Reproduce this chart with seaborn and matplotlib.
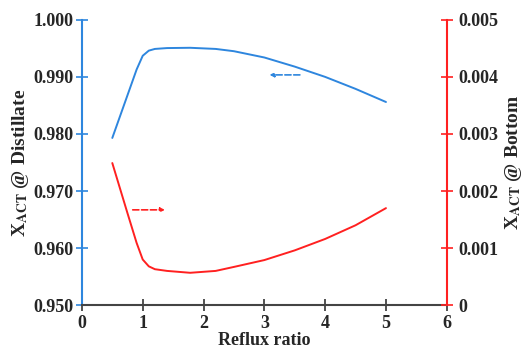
import numpy as np
import pandas as pd
import matplotlib
matplotlib.use('Agg')
import matplotlib.pyplot as plt
import seaborn as sns

# ── Data ──────────────────────────────────────────────────────────────────
reflux = [0.5, 0.75, 0.9, 1.0, 1.1, 1.2, 1.4, 1.78, 2.2, 2.5, 3.0, 3.5, 4.0, 4.5, 5.0]
x_distillate = [0.9793, 0.9868, 0.9913, 0.9937, 0.9946, 0.9949, 0.99505, 0.9951,
                0.9949, 0.9945, 0.9934, 0.9918, 0.9900, 0.9879, 0.9856]
x_bottom = [0.00249, 0.00161, 0.00109, 0.00080, 0.00068, 0.00063, 0.00060, 0.000567,
            0.00060, 0.00067, 0.00079, 0.00096, 0.00116, 0.00140, 0.00170]

blue = '#2E86DE'
red = '#FF2020'

sns.set_style('white')
plt.rcParams['font.family'] = ['Liberation Serif', 'DejaVu Serif']
plt.rcParams['font.weight'] = 'bold'
plt.rcParams['mathtext.fontset'] = 'stix'

df = pd.DataFrame({'reflux': reflux, 'dist': x_distillate, 'bot': x_bottom})

fig = plt.figure(figsize=(5.25, 3.54), dpi=100)
ax = fig.add_axes([0.156, 0.138, 0.695, 0.806])
ax2 = ax.twinx()

sns.lineplot(data=df, x='reflux', y='dist', ax=ax, color=blue, lw=1.4)
sns.lineplot(data=df, x='reflux', y='bot', ax=ax2, color=red, lw=1.4)

ax.set_xlim(0, 6)
ax.set_ylim(0.95, 1.0)
ax2.set_ylim(0, 0.005)
ax.set_xticks(range(7))
ax.set_yticks(np.arange(0.95, 1.0001, 0.01))
ax2.set_yticks(np.arange(0, 0.00501, 0.001))
ax.set_yticklabels([f'{v:.3f}' for v in np.arange(0.95, 1.0001, 0.01)])
ax2.set_yticklabels(['0'] + [f'{v:.3f}' for v in np.arange(0.001, 0.00501, 0.001)])

for a in (ax, ax2):
    a.spines['top'].set_visible(False)
    a.grid(False)
ax.spines['left'].set_color(blue)
ax.spines['left'].set_linewidth(1.5)
ax.spines['right'].set_visible(False)
ax2.spines['left'].set_visible(False)
ax2.spines['bottom'].set_visible(False)
ax2.spines['right'].set_color(red)
ax2.spines['right'].set_linewidth(1.5)
ax.spines['bottom'].set_color('#444444')
ax.spines['bottom'].set_linewidth(1.5)

fs = 13
ax.tick_params(axis='y', direction='inout', length=8, width=1.2, color=blue,
               labelsize=fs, left=True, pad=2)
ax.tick_params(axis='x', direction='inout', length=8, width=1.2, color='#333333',
               labelsize=fs, bottom=True, pad=3)
ax2.tick_params(axis='y', direction='inout', length=8, width=1.2, color=red,
                labelsize=fs, right=True, pad=4)
for lab in ax.get_xticklabels() + ax.get_yticklabels() + ax2.get_yticklabels():
    lab.set_fontweight('bold')

ax.set_xlabel('Reflux ratio', fontsize=13, fontweight='bold', labelpad=0)
ax.set_ylabel(r'X$_{\mathbf{ACT}}$ @ Distillate', fontsize=14, fontweight='bold', labelpad=2)
ax2.set_ylabel(r'X$_{\mathbf{ACT}}$ @ Bottom', fontsize=14, fontweight='bold', labelpad=4)

# direction arrows
ax.annotate('', xy=(3.04, 0.99035), xytext=(3.63, 0.99035),
            arrowprops=dict(arrowstyle='-|>', color=blue, ls='--', lw=1.2,
                            mutation_scale=6))
ax2.annotate('', xy=(1.41, 0.00167), xytext=(0.79, 0.00167),
             arrowprops=dict(arrowstyle='-|>', color=red, ls='--', lw=1.2,
                             mutation_scale=6))

plt.savefig('out.png', dpi=100)
plt.close()
